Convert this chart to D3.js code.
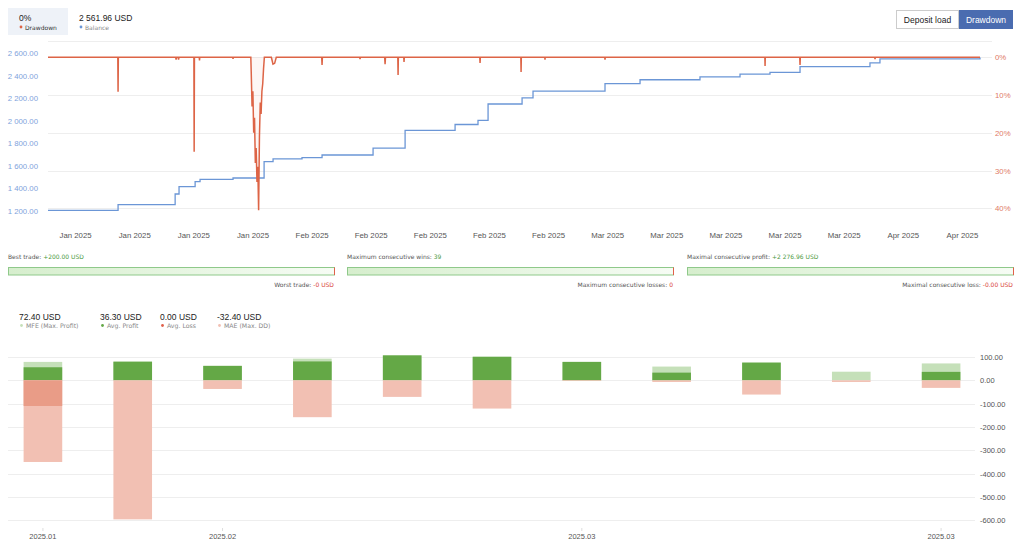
<!DOCTYPE html>
<html>
<head>
<meta charset="utf-8">
<script src="https://cdn.jsdelivr.net/npm/d3@7"></script>
<style>
body { margin: 0; background: #fff; }
svg { display: block; font-family: "Liberation Sans", Arial, sans-serif; }
.small { font-family: "DejaVu Sans", Verdana, sans-serif; }
</style>
</head>
<body>
<svg id="chart" width="1024" height="548"></svg>
<script>
// ---- balance (step line) ----
var balanceDates = [
  "2025-01-06 06:00", "2025-01-13 08:40", "2025-01-19 03:40", "2025-01-19 13:10",
  "2025-01-21 04:20", "2025-01-21 16:20", "2025-01-25 00:40", "2025-01-28 04:20",
  "2025-01-29 02:10", "2025-02-01 00:40", "2025-02-03 01:30", "2025-02-08 05:45",
  "2025-02-11 11:45", "2025-02-16 13:30", "2025-02-18 21:20", "2025-02-19 21:50",
  "2025-02-23 08:40", "2025-02-24 11:20", "2025-03-03 18:40", "2025-03-07 08:00",
  "2025-03-13 10:00", "2025-03-17 11:30", "2025-03-20 12:30", "2025-03-23 13:40",
  "2025-03-30 16:00", "2025-03-31 16:20", "2025-04-10 20:00"
];
var balanceValues = [
  1205, 1256, 1351, 1416, 1460, 1481, 1493, 1638,
  1662, 1673, 1697, 1759, 1915, 1968, 2005, 2150,
  2205, 2265, 2330, 2365, 2390, 2415, 2430, 2482,
  2515, 2550, 2561.96
];

// ---- drawdown, % ----
var ddDates = [
  "2025-01-06 06:00", "2025-01-13 08:00", "2025-01-13 08:40", "2025-01-13 09:20",
  "2025-01-19 05:00", "2025-01-19 06:00", "2025-01-19 07:00",
  "2025-01-19 11:00", "2025-01-19 12:00", "2025-01-19 13:00",
  "2025-01-21 01:20", "2025-01-21 02:00", "2025-01-21 02:40",
  "2025-01-21 14:20", "2025-01-21 15:00", "2025-01-21 15:40",
  "2025-01-25 00:00", "2025-01-25 00:40", "2025-01-25 01:20",
  "2025-01-26 20:00", "2025-01-26 21:00", "2025-01-26 23:00", "2025-01-27 01:00",
  "2025-01-27 03:00", "2025-01-27 05:00", "2025-01-27 07:00", "2025-01-27 09:00",
  "2025-01-27 11:00", "2025-01-27 13:00", "2025-01-27 15:00", "2025-01-27 17:00",
  "2025-01-27 19:00", "2025-01-27 21:00", "2025-01-27 23:00", "2025-01-28 01:00",
  "2025-01-28 03:00", "2025-01-28 05:00",
  "2025-01-28 22:00", "2025-01-29 02:00", "2025-01-29 06:00", "2025-01-29 10:00",
  "2025-02-03 00:40", "2025-02-03 01:30", "2025-02-03 02:20",
  "2025-02-06 21:20", "2025-02-06 22:00", "2025-02-06 22:40",
  "2025-02-09 10:00", "2025-02-09 11:00", "2025-02-09 12:00",
  "2025-02-10 18:00", "2025-02-10 18:40", "2025-02-10 19:20",
  "2025-02-11 08:30", "2025-02-11 09:10", "2025-02-11 09:50",
  "2025-02-19 01:40", "2025-02-19 02:20", "2025-02-19 03:00",
  "2025-02-23 05:40", "2025-02-23 06:15", "2025-02-23 06:50",
  "2025-02-25 16:00", "2025-02-25 16:30", "2025-02-25 17:00",
  "2025-03-03 18:00", "2025-03-03 18:40", "2025-03-03 19:20",
  "2025-03-20 00:00", "2025-03-20 00:30", "2025-03-20 01:00",
  "2025-03-23 13:00", "2025-03-23 13:40", "2025-03-23 14:20",
  "2025-03-31 03:40", "2025-03-31 04:20", "2025-03-31 05:00",
  "2025-04-10 20:00"
];
var ddValues = [
  0, 0, 9.1, 0,
  0, 0.6, 0,
  0, 0.6, 0,
  0, 25, 0,
  0, 0.8, 0,
  0, 0.4, 0,
  0, 4, 13, 9,
  20, 16, 28, 24,
  33, 29, 40.5, 21,
  12, 15, 9, 7,
  3, 0,
  0, 1.8, 1.6, 0,
  0, 2.0, 0,
  0, 0.5, 0,
  0, 1.8, 0,
  0, 4.7, 0,
  0, 1.2, 0,
  0, 1.5, 0,
  0, 3.9, 0,
  0, 0.6, 0,
  0, 0.6, 0,
  0, 2.3, 0,
  0, 2.0, 0,
  0, 0.5, 0,
  0
];

var xTickDates = [
  "2025-01-09", "2025-01-15", "2025-01-21", "2025-01-27", "2025-02-02", "2025-02-08",
  "2025-02-14", "2025-02-20", "2025-02-26", "2025-03-04", "2025-03-10", "2025-03-16",
  "2025-03-22", "2025-03-28", "2025-04-03", "2025-04-09"
];
var balanceTicks = [1200, 1400, 1600, 1800, 2000, 2200, 2400, 2600];
var ddTicks = [0, 10, 20, 30, 40];

// ---- stats ----
var statTop = ["Best trade: ", "Maximum consecutive wins: ", "Maximal consecutive profit: "];
var statTopVal = ["+200.00 USD", "39", "+2 276.96 USD"];
var statBottom = ["Worst trade: ", "Maximum consecutive losses: ", "Maximal consecutive loss: "];
var statBottomVal = ["-0 USD", "0", "-0.00 USD"];

// ---- MFE / MAE bars ----
var weekLabels = ["2025.01", "", "2025.02", "", "", "", "2025.03", "", "", "", "2025.03"];
var mfe       = [79, 80, 62, 93, 107, 101, 79, 59, 76, 37, 72.40];
var avgProfit = [56, 80, 62, 81, 107, 101, 79, 33, 76, 0, 36.30];
var avgLoss   = [-110, 0, 0, 0, 0, 0, 0, 0, 0, 0, 0.00];
var mae       = [-350, -596, -37, -158, -71, -121, -3, -7, -61, -7, -32.40];
var plTicks = [100, 0, -100, -200, -300, -400, -500, -600];

var loc = d3.formatLocale({decimal: ".", thousands: " ", grouping: [3], currency: ["", ""], minus: "-"});
var f2 = loc.format(",.2f");
var parseT = d3.timeParse("%Y-%m-%d %H:%M");
var parseD = d3.timeParse("%Y-%m-%d");

var svg = d3.select("#chart");

var C_RED = "#dd6446", C_BLUE = "#6b96d6";

// ---------- header ----------
svg.append("rect").attr("x", 8).attr("y", 8).attr("width", 60).attr("height", 27).attr("fill", "#eef2f8");
svg.append("text").attr("x", 19).attr("y", 21).attr("font-size", 8.5).attr("fill", "#222")
  .text(ddValues[ddValues.length - 1] + "%");
svg.append("circle").attr("cx", 21).attr("cy", 27).attr("r", 1.4).attr("fill", C_RED);
svg.append("text").attr("class", "small").attr("x", 25).attr("y", 29.5).attr("font-size", 6).attr("fill", "#333").text("Drawdown");
svg.append("text").attr("x", 79).attr("y", 21).attr("font-size", 8.5).attr("fill", "#222")
  .text(f2(balanceValues[balanceValues.length - 1]) + " USD");
svg.append("circle").attr("cx", 81).attr("cy", 27).attr("r", 1.4).attr("fill", C_BLUE);
svg.append("text").attr("class", "small").attr("x", 85).attr("y", 29.5).attr("font-size", 6).attr("fill", "#888").text("Balance");

// buttons
svg.append("rect").attr("x", 896.5).attr("y", 10.5).attr("width", 62).attr("height", 18).attr("fill", "#fff").attr("stroke", "#ccc");
svg.append("text").attr("x", 927.5).attr("y", 22.5).attr("text-anchor", "middle").attr("font-size", 8.5).attr("fill", "#222").text("Deposit load");
svg.append("rect").attr("x", 959).attr("y", 10).attr("width", 54).attr("height", 19).attr("fill", "#4a6cb0");
svg.append("text").attr("x", 986).attr("y", 22.5).attr("text-anchor", "middle").attr("font-size", 8.5).attr("fill", "#fff").text("Drawdown");

// ---------- top chart ----------
var x = d3.scaleTime()
  .domain([parseT("2025-01-06 06:00"), parseT("2025-04-10 20:00")])
  .range([48, 980]);
var yBal = d3.scaleLinear().domain([1200, 2600]).range([211, 53.3]);
var yDD = d3.scaleLinear().domain([0, 40]).range([57.3, 208.3]);

var gTop = svg.append("g");
gTop.append("line").attr("x1", 48).attr("x2", 992).attr("y1", 41.5).attr("y2", 41.5).attr("stroke", "#eee");
gTop.selectAll(".grid").data(ddTicks).enter().append("line")
  .attr("x1", 48).attr("x2", 992)
  .attr("y1", function(d){ return Math.round(yDD(d)) + 0.5; })
  .attr("y2", function(d){ return Math.round(yDD(d)) + 0.5; })
  .attr("stroke", "#eee");

var balData = balanceDates.map(function(d, i){ return [parseT(d), balanceValues[i]]; });
var ddData = ddDates.map(function(d, i){ return [parseT(d), ddValues[i]]; });

gTop.append("path").datum(ddData)
  .attr("fill", "rgba(221,100,70,0.06)")
  .attr("d", d3.area().x(function(d){ return x(d[0]); }).y0(yDD(0)).y1(function(d){ return yDD(d[1]); }));

gTop.append("path").datum(balData)
  .attr("fill", "none").attr("stroke", C_BLUE).attr("stroke-width", 1.3)
  .attr("d", d3.line().curve(d3.curveStepAfter).x(function(d){ return x(d[0]); }).y(function(d){ return yBal(d[1]); }));

gTop.append("path").datum(ddData)
  .attr("fill", "none").attr("stroke", C_RED).attr("stroke-width", 1.5)
  .attr("d", d3.line().x(function(d){ return x(d[0]); }).y(function(d){ return yDD(d[1]); }));

var axL = gTop.append("g").attr("transform", "translate(40,0)")
  .call(d3.axisLeft(yBal).tickValues(balanceTicks).tickSize(0).tickPadding(2).tickFormat(f2));
var axR = gTop.append("g").attr("transform", "translate(992,0)")
  .call(d3.axisRight(yDD).tickValues(ddTicks).tickSize(0).tickPadding(3).tickFormat(function(d){ return d + "%"; }));
var axX = gTop.append("g").attr("transform", "translate(0,228)")
  .call(d3.axisBottom(x).tickValues(xTickDates.map(parseD)).tickSize(0).tickPadding(4).tickFormat(d3.timeFormat("%b %Y")));
[axL, axR, axX].forEach(function(a){
  a.select(".domain").remove();
  a.selectAll("text").attr("font-family", "Liberation Sans, Arial, sans-serif").attr("font-size", 7.8);
});
axL.selectAll("text").attr("fill", "#7fa3dc");
axR.selectAll("text").attr("fill", "#e07a66");
axX.selectAll("text").attr("fill", "#555");

// ---------- stats ----------
var defs = svg.append("defs");
var grad = defs.append("linearGradient").attr("id", "gbar");
grad.append("stop").attr("offset", "0%").attr("stop-color", "#d6eecd");
grad.append("stop").attr("offset", "100%").attr("stop-color", "#f6fcf4");

var panelX = [8, 347, 687];
var panelW = 326;
panelX.forEach(function(px, i){
  var t = svg.append("text").attr("class", "small").attr("x", px).attr("y", 259).attr("font-size", 6);
  t.append("tspan").attr("fill", "#555").text(statTop[i]);
  t.append("tspan").attr("fill", "#4d9a3f").text(statTopVal[i]);
  svg.append("rect").attr("x", px + 0.5).attr("y", 267.5).attr("width", panelW).attr("height", 7.5)
    .attr("fill", "url(#gbar)").attr("stroke", "#8fc98a");
  svg.append("line").attr("x1", px + panelW + 0.5).attr("x2", px + panelW + 0.5).attr("y1", 267.5).attr("y2", 275)
    .attr("stroke", "#e0604a");
  var b = svg.append("text").attr("class", "small").attr("x", px + panelW).attr("y", 286.5)
    .attr("text-anchor", "end").attr("font-size", 6);
  b.append("tspan").attr("fill", "#555").text(statBottom[i]);
  b.append("tspan").attr("fill", "#d9453a").text(statBottomVal[i]);
});

// ---------- MFE/MAE legend ----------
var last = mfe.length - 1;
var legend = [
  {v: mfe[last], label: "MFE (Max. Profit)", c: "#c5e0b9", x: 19},
  {v: avgProfit[last], label: "Avg. Profit", c: "#64a846", x: 100},
  {v: avgLoss[last], label: "Avg. Loss", c: "#e0604a", x: 160},
  {v: mae[last], label: "MAE (Max. DD)", c: "#f2c0b3", x: 217}
];
legend.forEach(function(l){
  svg.append("text").attr("x", l.x).attr("y", 320).attr("font-size", 8.5).attr("fill", "#222").text(f2(l.v) + " USD");
  svg.append("circle").attr("cx", l.x + 2.5).attr("cy", 325.5).attr("r", 1.4).attr("fill", l.c);
  svg.append("text").attr("class", "small").attr("x", l.x + 7).attr("y", 327.5).attr("font-size", 6.2).attr("fill", "#888").text(l.label);
});

// ---------- MFE/MAE bars ----------
var xb = d3.scaleBand().domain(d3.range(weekLabels.length)).range([-2, 986]).paddingInner(0.57).paddingOuter(0.285);
var yPL = d3.scaleLinear().domain([-600, 100]).range([520.3, 357]);

var bot = svg.append("g");
bot.selectAll(".pgrid").data(plTicks).enter().append("line")
  .attr("x1", 8).attr("x2", 975)
  .attr("y1", function(d){ return Math.round(yPL(d)) + 0.5; })
  .attr("y2", function(d){ return Math.round(yPL(d)) + 0.5; })
  .attr("stroke", "#eee");

function bars(vals, color) {
  bot.append("g").selectAll("rect").data(vals).enter().append("rect")
    .attr("x", function(d, i){ return xb(i); })
    .attr("width", xb.bandwidth())
    .attr("y", function(d){ return yPL(Math.max(0, d)); })
    .attr("height", function(d){ return Math.abs(yPL(d) - yPL(0)); })
    .attr("fill", color);
}
bars(mfe, "#c5e0b9");
bars(avgProfit, "#64a846");
bars(mae, "#f2c0b3");
bars(avgLoss, "#e99c87");

var axPL = bot.append("g").attr("transform", "translate(977,0)")
  .call(d3.axisRight(yPL).tickValues(plTicks).tickSize(0).tickPadding(3).tickFormat(f2));
var axW = bot.append("g").attr("transform", "translate(0,528)")
  .call(d3.axisBottom(xb)
    .tickValues(d3.range(weekLabels.length).filter(function(i){ return weekLabels[i]; }))
    .tickSize(3).tickPadding(3)
    .tickFormat(function(i){ return weekLabels[i]; }));
[axPL, axW].forEach(function(a){
  a.select(".domain").remove();
  a.selectAll("text").attr("font-family", "Liberation Sans, Arial, sans-serif").attr("font-size", 7.5).attr("fill", "#555");
  a.selectAll(".tick line").attr("stroke", "#ddd");
});
</script>
</body>
</html>
